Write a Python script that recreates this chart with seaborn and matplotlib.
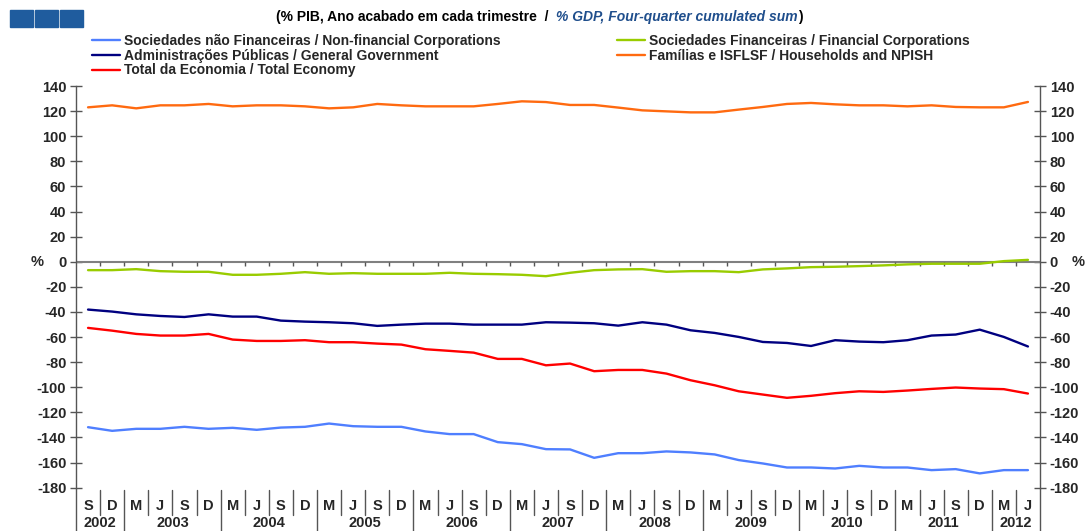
import numpy as np
import pandas as pd
import matplotlib.pyplot as plt
import seaborn as sns
from matplotlib.patches import Rectangle
from matplotlib.lines import Line2D

# quarters Sep 2002 .. Jun 2012
quarters = ["S", "D"] + ["M", "J", "S", "D"] * 9 + ["M", "J"]
years = ["2002", "2003", "2004", "2005", "2006", "2007", "2008", "2009", "2010", "2011", "2012"]
quarters_per_year = [2, 4, 4, 4, 4, 4, 4, 4, 4, 4, 2]

nonfin = [-131.8, -134.7, -133.1, -133.1, -131.5, -133.1, -132.3, -133.9, -132.1, -131.5,
          -128.9, -131.0, -131.5, -131.5, -135.2, -137.3, -137.3, -143.7, -145.3, -149.3,
          -149.5, -156.2, -152.5, -152.5, -151.1, -151.9, -153.5, -158.0, -160.7, -163.9,
          -163.9, -164.7, -162.6, -163.9, -163.9, -166.0, -165.2, -168.6, -166.0, -166.0]
fin = [-6.7, -6.7, -5.9, -7.5, -8.0, -8.0, -10.4, -10.4, -9.6, -8.3,
       -9.6, -9.1, -9.6, -9.6, -9.6, -8.8, -9.6, -9.9, -10.4, -11.5,
       -8.8, -6.7, -6.1, -5.9, -8.0, -7.5, -7.5, -8.3, -6.1, -5.3,
       -4.3, -4.0, -3.5, -2.9, -2.1, -1.6, -1.6, -1.6, 0.5, 1.5]
gov = [-38.1, -39.7, -41.9, -43.2, -44.0, -41.9, -43.7, -43.7, -46.9, -47.7,
       -48.2, -49.0, -51.1, -50.1, -49.3, -49.3, -50.1, -50.1, -50.1, -48.2,
       -48.5, -49.0, -50.9, -48.2, -50.1, -54.6, -56.7, -59.9, -63.9, -64.7,
       -67.1, -62.5, -63.6, -64.1, -62.5, -58.8, -58.0, -54.1, -59.9, -67.5]
households = [123.0, 124.6, 122.2, 124.6, 124.6, 125.7, 123.8, 124.6, 124.6, 123.8,
              122.2, 123.0, 125.7, 124.6, 123.8, 123.8, 123.8, 125.7, 127.8, 127.2,
              124.9, 124.9, 122.8, 120.6, 119.8, 119.0, 119.0, 121.2, 123.3, 125.7,
              126.5, 125.4, 124.6, 124.6, 123.8, 124.6, 123.3, 123.0, 123.0, 127.3]
total = [-52.7, -54.9, -57.5, -58.8, -58.8, -57.5, -62.0, -63.1, -63.1, -62.5,
         -64.1, -64.1, -65.2, -66.0, -69.7, -71.0, -72.4, -77.4, -77.4, -82.5,
         -81.1, -87.2, -86.2, -86.2, -89.1, -94.4, -98.4, -103.2, -105.8, -108.4,
         -106.8, -104.7, -103.2, -103.7, -102.6, -101.3, -100.2, -101.0, -101.5, -105.0]

names = ["Sociedades não Financeiras / Non-financial Corporations",
         "Administrações Públicas / General Government",
         "Total da Economia / Total Economy",
         "Sociedades Financeiras / Financial Corporations",
         "Famílias e ISFLSF / Households and NPISH"]
colors = ["#4F7FFF", "#000080", "#FF0000", "#99CC00", "#FF6A10"]

series = [nonfin, gov, total, fin, households]
rows = []
for name, vals in zip(names, series):
    for i, v in enumerate(vals):
        rows.append([name, i, v])
df = pd.DataFrame(rows, columns=["series", "pos", "value"])

sns.set_theme(style="white")
plt.rcParams["font.family"] = ["Liberation Sans", "DejaVu Sans"]

W, H = 1086, 531
fig = plt.figure(figsize=(W / 100, H / 100), dpi=100)
ax = fig.add_axes([76 / W, 1 - 487.7 / H, 964 / W, 401.7 / H])

sns.lineplot(data=df, x="pos", y="value", hue="series", hue_order=names,
             palette=dict(zip(names, colors)), linewidth=1.7, legend=False,
             ax=ax, sort=False)

ax.set_xlim(-0.5, len(quarters) - 0.5)
ax.set_ylim(-180, 140)
ax.set_yticks(np.arange(-180, 141, 20))
ax.set_yticklabels([str(v) for v in range(-180, 141, 20)], fontsize=10.5, fontweight="bold")
ax.tick_params(axis="y", direction="inout", length=8, width=1, color="#555555",
               left=True, right=True, labelleft=True, labelright=True, pad=3)
ax.set_xticks(range(len(quarters)))
ax.set_xticklabels(quarters, fontsize=10.5, fontweight="bold")
ax.tick_params(axis="x", length=0, pad=8)
ax.set_xlabel("")
ax.set_ylabel("")
for s in ["top", "bottom"]:
    ax.spines[s].set_visible(False)
for s in ["left", "right"]:
    ax.spines[s].set_color("#555555")
    ax.spines[s].set_linewidth(1)

# zero line with category ticks
ax.axhline(0, color="#808080", lw=1.5, zorder=1)
ax.vlines(np.arange(0.5, len(quarters) - 0.5), -3.5, 0, color="#555555", lw=1, zorder=1)

# category table under the plot
trans = ax.get_xaxis_transform()
for side in [0, 1]:
    ax.plot([side, side], [0, -0.11], transform=ax.transAxes, color="#555555",
            lw=1, clip_on=False)
bounds = np.cumsum(quarters_per_year)
for k in range(1, len(quarters)):
    is_year = k in bounds
    ax.plot([k - 0.5, k - 0.5], [-0.006, -0.11 if is_year else -0.068], transform=trans,
            color="#555555", lw=1, clip_on=False)
start = 0
for yr, n in zip(years, quarters_per_year):
    ax.text(start + (n - 1) / 2, -0.088, yr, transform=trans, ha="center", va="center",
            fontsize=10.5, fontweight="bold")
    start += n

ax.text(-0.04, 0, "%", transform=ax.get_yaxis_transform(), ha="center", va="center",
        fontsize=10.5, fontweight="bold")
ax.text(1.04, 0, "%", transform=ax.get_yaxis_transform(), ha="center", va="center",
        fontsize=10.5, fontweight="bold")

# logo squares
for k in range(3):
    fig.patches.append(Rectangle(((10 + k * 25) / W, 1 - 27 / H), 23 / W, 17 / H,
                                 transform=fig.transFigure, color="#1F5C9E"))

# title in two styles
ty = 1 - 17 / H
parts = [("(% PIB, Ano acabado em cada trimestre  /  ", "black", "normal"),
         ("% GDP, Four-quarter cumulated sum", "#1F4E8C", "italic"),
         (")", "black", "normal")]
texts = [fig.text(0, ty, p, color=c, style=st, fontsize=10, fontweight="bold", va="center")
         for p, c, st in parts]
renderer = fig.canvas.get_renderer()
widths = [t.get_window_extent(renderer).width for t in texts]
x = 539 - sum(widths) / 2
for t, w in zip(texts, widths):
    t.set_x(x / W)
    x += w

# legend in two columns
handles = [Line2D([], [], color=c, lw=1.7) for c in colors]
leg_kw = dict(frameon=False, handlelength=2.0, handletextpad=0.3,
              labelspacing=0.05, borderpad=0, borderaxespad=0, loc="upper left",
              prop={"weight": "bold", "size": 10})
leg1 = fig.legend(handles[:3], names[:3], bbox_to_anchor=(92 / W, 1 - 34 / H), **leg_kw)
leg2 = fig.legend(handles[3:], names[3:], bbox_to_anchor=(617 / W, 1 - 34 / H), **leg_kw)

fig.savefig("out.png", dpi=100)
